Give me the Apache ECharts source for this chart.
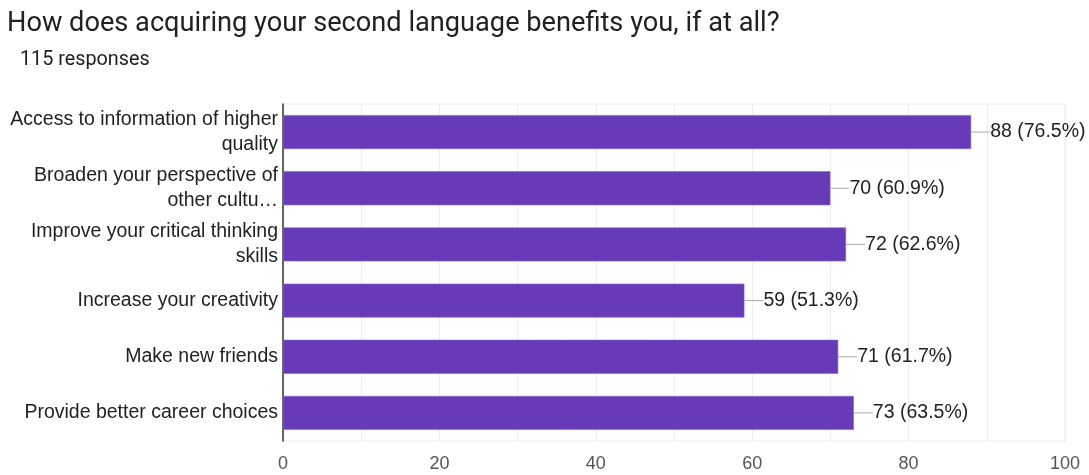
<!DOCTYPE html>
<html>
<head>
<meta charset="utf-8">
<script src="https://cdn.jsdelivr.net/npm/echarts@6/dist/echarts.min.js"></script>
<style>
  html, body { margin: 0; padding: 0; background: #fff; }
  #chart { width: 1089px; height: 475px; }
</style>
</head>
<body>
<div id="chart"></div>
<script>
// Survey answers (as shown on the axis) and response counts
const categories = [
  'Access to information of higher\nquality',
  'Broaden your perspective of\nother cultu…',
  'Improve your critical thinking\nskills',
  'Increase your creativity',
  'Make new friends',
  'Provide better career choices'
];
const counts = [88, 70, 72, 59, 71, 73];
const percents = ['76.5%', '60.9%', '62.6%', '51.3%', '61.7%', '63.5%'];
const xTicks = [0, 20, 40, 60, 80, 100];

const chart = echarts.init(document.getElementById('chart'), null, { renderer: 'canvas' });

chart.setOption({
  animation: false,
  backgroundColor: '#ffffff',
  title: [
    {
      text: 'How does acquiring your second language benefits you, if at all?',
      left: 2, top: 6,
      textStyle: { fontFamily: 'Roboto', fontSize: 27.2, fontWeight: 'normal', color: '#202124' }
    },
    {
      text: '115 responses',
      left: 15, top: 45,
      textStyle: { fontFamily: 'Roboto', fontSize: 19.8, fontWeight: 'normal', color: '#202124' }
    }
  ],
  grid: {
    left: 283, right: 24, top: 104, bottom: 34,
    show: true, borderColor: '#eaeaea', borderWidth: 1
  },
  xAxis: {
    type: 'value',
    min: 0, max: 100, interval: 10,
    axisLine: { show: false },
    axisTick: { show: false },
    splitLine: { show: true, lineStyle: { color: '#eeeeee', width: 1 } },
    axisLabel: {
      margin: 14,
      fontFamily: 'Liberation Sans', fontSize: 18, color: '#555',
      formatter: v => (xTicks.indexOf(v) >= 0 ? String(v) : '')
    }
  },
  yAxis: {
    type: 'category',
    inverse: true,
    data: categories,
    axisLine: { show: true, lineStyle: { color: '#333', width: 1.5 } },
    axisTick: { show: false },
    splitLine: { show: false },
    axisLabel: {
      margin: 5,
      fontFamily: 'Liberation Sans', fontSize: 19.5, color: '#222', lineHeight: 25, align: 'right'
    }
  },
  series: [{
    type: 'bar',
    data: counts,
    barCategoryGap: '39.5%',
    itemStyle: { color: '#673ab7', borderColor: '#8a66cc', borderWidth: 0.6 },
    label: {
      show: true,
      position: 'right',
      distance: 0,
      formatter: p => '{ln|}{t|' + p.value + ' (' + percents[p.dataIndex] + ')}',
      rich: {
        ln: { width: 19, height: 1, backgroundColor: '#a8a8a8' },
        t: { fontFamily: 'Liberation Sans', fontSize: 19.5, color: '#222' }
      }
    }
  }]
});
</script>
</body>
</html>
